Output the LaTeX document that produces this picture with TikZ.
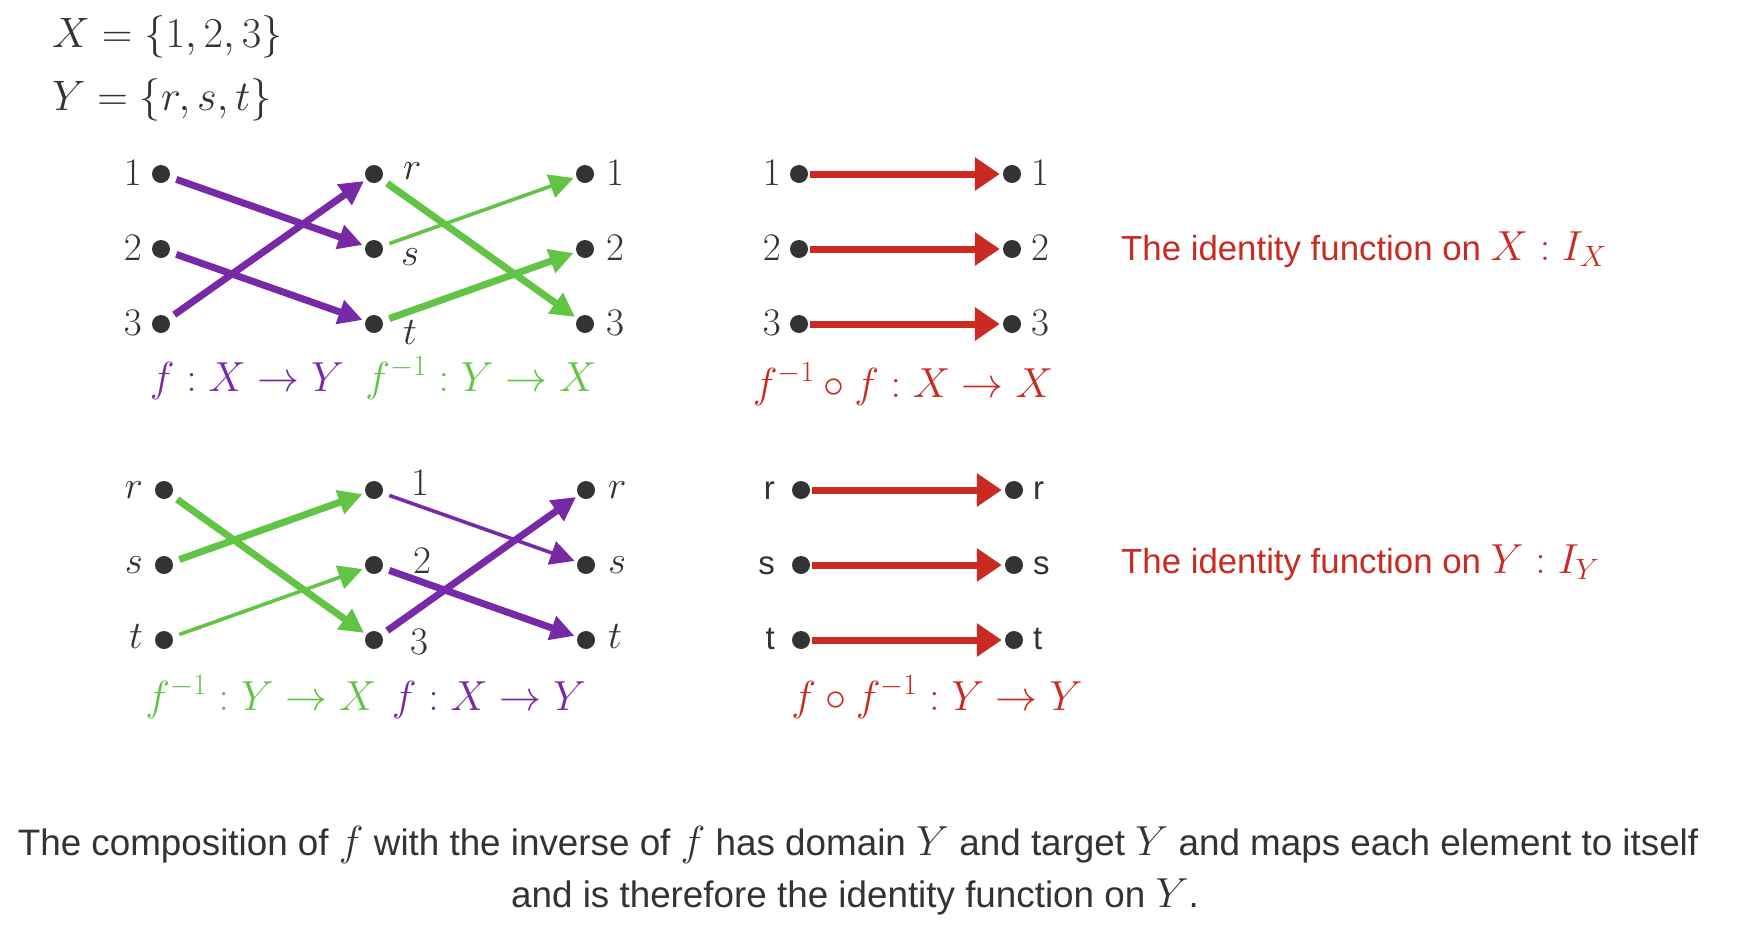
\RequirePackage{fix-cm}
\documentclass[tikz,border=0pt]{standalone}
\usepackage{fontspec}
\newfontfamily\arialfont{Liberation Sans}
\usetikzlibrary{arrows.meta}
\definecolor{fpurple}{RGB}{120,41,166}
\definecolor{fgreen}{RGB}{98,196,68}
\definecolor{fred}{RGB}{201,42,34}
\definecolor{dotgray}{RGB}{51,51,51}
\begin{document}
\begin{tikzpicture}[x=1pt,y=-1pt,
  pt/.style={circle,fill=dotgray,inner sep=0pt,minimum size=18pt},
  lbl/.style={text=dotgray,inner sep=0pt,font=\fontsize{39}{46}\selectfont},
  slbl/.style={text=dotgray,inner sep=0pt,font=\arialfont\fontsize{33}{40}\selectfont},
  flbl/.style={inner sep=0pt,anchor=base,font=\fontsize{42}{50}\selectfont},
  tip/.style={-{Triangle[length=24pt,width=24pt]}},
  thickarr/.style={tip,line width=7pt,shorten <=7pt,shorten >=3pt},
  thinarr/.style={tip,line width=3.6pt,shorten <=7pt,shorten >=3pt},
  redarr/.style={-{Triangle[length=25pt,width=32pt]},line width=7pt,draw=fred,shorten <=2pt,shorten >=3pt},
]
\useasboundingbox (0,0) rectangle (1752,938);

% top formulas
\node[lbl,anchor=base west,font=\fontsize{42.5}{50}\selectfont] (defx) at (52,47) {$X=\{1,2,3\}$};
\node[lbl,anchor=base west,font=\fontsize{42.5}{50}\selectfont] (defy) at (52,110) {$Y=\{r,s,t\}$};

% ---------- top-left ----------
\foreach \n/\y in {1/174,2/249,3/324}{
  \node[pt] (a\n) at (161,\y) {};
  \node[pt] (c\n) at (585,\y) {};
  \node[lbl,anchor=base east] (al\n) at (142,\y+11) {$\n$};
  \node[lbl,anchor=base west] (cl\n) at (606,\y+11) {$\n$};
}
\node[pt] (br) at (374,174) {};
\node[pt] (bs) at (374,249) {};
\node[pt] (bt) at (374,324) {};
\node[lbl,anchor=base west] (brl) at (403,179) {$r$};
\node[lbl,anchor=base west] (bsl) at (401,265) {$s$};
\node[lbl,anchor=base west] (btl) at (403,344) {$t$};

\draw[thickarr,fpurple] (a1) -- (bs);
\draw[thickarr,fpurple] (a2) -- (bt);
\draw[thickarr,fpurple] (a3) -- (br);
\draw[thickarr,fgreen] (br) -- (c3);
\draw[thinarr,fgreen] (bs) -- (c1);
\draw[thickarr,fgreen] (bt) -- (c2);

\node[flbl,text=fpurple] (fl1) at (247,391) {$f: X\to Y$};
\node[flbl,text=fgreen] (fl2) at (481,391) {$f^{-1}: Y\to X$};

% ---------- bottom-left ----------
\foreach \n/\y in {r/490,s/565,t/640}{
  \node[pt] (d\n) at (164,\y) {};
  \node[pt] (g\n) at (586,\y) {};
  \node[lbl,anchor=base east] (dl\n) at (143,\y+8) {$\n$};
  \node[lbl,anchor=base west] (gl\n) at (608,\y+8) {$\n$};
}
\node[pt] (e1) at (374,490) {};
\node[pt] (e2) at (374,565) {};
\node[pt] (e3) at (374,640) {};
\node[lbl,anchor=base west] (el1) at (411,495) {$1$};
\node[lbl,anchor=base west] (el2) at (413,573) {$2$};
\node[lbl,anchor=base west] (el3) at (410,654) {$3$};

\draw[thickarr,fgreen] (dr) -- (e3);
\draw[thickarr,fgreen] (ds) -- (e1);
\draw[thinarr,fgreen] (dt) -- (e2);
\draw[thinarr,fpurple] (e1) -- (gs);
\draw[thickarr,fpurple] (e2) -- (gt);
\draw[thickarr,fpurple] (e3) -- (gr);

\node[flbl,text=fgreen] (fl3) at (261,710) {$f^{-1}: Y\to X$};
\node[flbl,text=fpurple] (fl4) at (489,710) {$f: X\to Y$};

% ---------- top-right ----------
\foreach \n/\y in {1/174,2/249,3/324}{
  \node[pt] (h\n) at (799,\y) {};
  \node[pt] (k\n) at (1012,\y) {};
  \node[lbl,anchor=base east] (hl\n) at (781,\y+11) {$\n$};
  \node[lbl,anchor=base west] (kl\n) at (1031,\y+11) {$\n$};
  \draw[redarr] (h\n) -- (k\n);
}
\node[flbl,text=fred] (fl5) at (903,397) {$f^{-1}\circ f: X\to X$};

% ---------- bottom-right ----------
\foreach \n/\y in {r/490,s/565,t/640}{
  \node[pt] (m\n) at (801,\y) {};
  \node[pt] (p\n) at (1014,\y) {};
  \node[slbl,anchor=base east] (ml\n) at (775,\y+9) {\n};
  \node[slbl,anchor=base west] (pl\n) at (1033,\y+9) {\n};
  \draw[redarr] (m\n) -- (p\n);
}
\node[flbl,text=fred] (fl6) at (937,710) {$f\circ f^{-1}: Y\to Y$};

% identity texts
\node[inner sep=0pt,anchor=base west,text=fred,font=\arialfont\fontsize{34.8}{40}\selectfont] (idx) at (1121,260)
  {The identity function on {\fontsize{42}{50}\selectfont$X : I_X$}};
\node[inner sep=0pt,anchor=base west,text=fred,font=\arialfont\fontsize{34.8}{40}\selectfont] (idy) at (1121,573)
  {The identity function on {\fontsize{42}{50}\selectfont$Y : I_Y$}};

% caption
\node[inner sep=0pt,anchor=base,text=dotgray,font=\arialfont\fontsize{36.8}{44}\selectfont] (cap1) at (858,855)
  {The composition of {\fontsize{42}{50}\selectfont$f$} with the inverse of {\fontsize{42}{50}\selectfont$f$} has domain {\fontsize{42}{50}\selectfont$Y$} and target {\fontsize{42}{50}\selectfont$Y$} and maps each element to itself};
\node[inner sep=0pt,anchor=base,text=dotgray,font=\arialfont\fontsize{36.8}{44}\selectfont] (cap2) at (855,907)
  {and is therefore the identity function on {\fontsize{42}{50}\selectfont$Y$}.};
\end{tikzpicture}
\end{document}
